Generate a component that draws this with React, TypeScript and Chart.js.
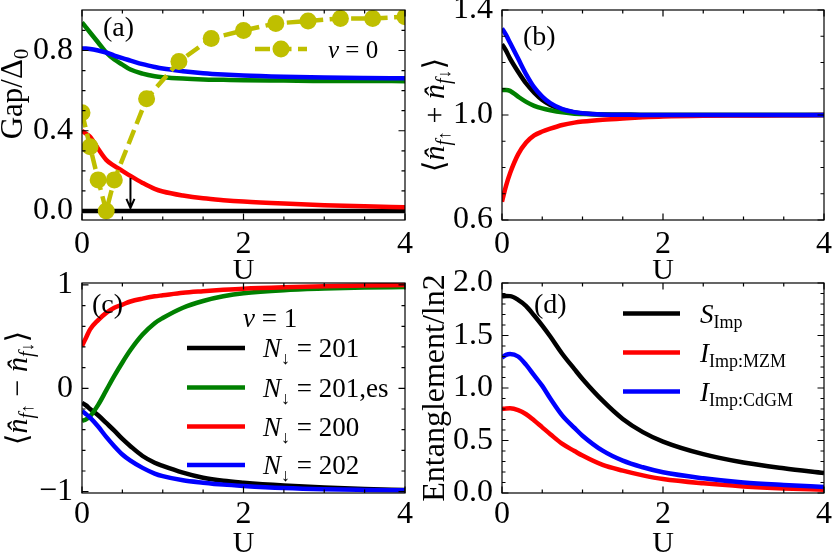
import React, { useEffect, useRef } from 'react';
import { Chart, registerables } from 'chart.js';
Chart.register(...registerables);

const FONT = '"Liberation Serif", "DejaVu Serif", serif';
const W = 832;
const H = 552;

// shared U grid for the smooth curves
const U_GRID = [0, 0.05, 0.1, 0.2, 0.3, 0.4, 0.5, 0.6, 0.75, 0.9, 1.0, 1.25, 1.5, 1.75, 2, 2.5, 3, 3.5, 4];
const X_TICKS = [0, 2, 4];
const X_MINOR = [0.5, 1, 1.5, 2.5, 3, 3.5];

// (a) gap
const A_BLACK_U = [0, 4];
const A_BLACK = [0, 0];
const A_RED = [0.40, 0.385, 0.37, 0.31, 0.255, 0.225, 0.20, 0.175, 0.14, 0.11, 0.097, 0.077, 0.063, 0.054, 0.047, 0.037, 0.029, 0.023, 0.018];
const A_GREEN = [0.94, 0.915, 0.89, 0.84, 0.79, 0.755, 0.73, 0.705, 0.685, 0.672, 0.667, 0.66, 0.656, 0.654, 0.652, 0.65, 0.648, 0.648, 0.647];
const A_BLUE = [0.81, 0.81, 0.808, 0.80, 0.79, 0.775, 0.762, 0.75, 0.732, 0.718, 0.71, 0.697, 0.687, 0.68, 0.675, 0.669, 0.665, 0.663, 0.662];
const A_NU0_U = [0, 0.1, 0.2, 0.3, 0.4, 0.8, 1.2, 1.6, 2.0, 2.4, 2.8, 3.2, 3.6, 4.0];
const A_NU0 = [0.49, 0.32, 0.155, 0.0, 0.155, 0.56, 0.745, 0.86, 0.90, 0.935, 0.947, 0.96, 0.96, 0.968];
const A_ARROW_U = 0.6;
const A_ARROW_FROM = 0.165;
const A_ARROW_TO = 0.015;
const A_Y_TICKS = [0, 0.4, 0.8];
const A_Y_MINOR = [0.1, 0.2, 0.3, 0.5, 0.6, 0.7, 0.9];

// (b) occupation sum
const B_BLACK = [1.27, 1.245, 1.215, 1.165, 1.12, 1.085, 1.057, 1.038, 1.02, 1.01, 1.006, 1.002, 1.001, 1.0, 1.0, 1.0, 1.0, 1.0, 1.0];
const B_GREEN = [1.095, 1.095, 1.092, 1.07, 1.05, 1.035, 1.025, 1.018, 1.01, 1.005, 1.004, 1.002, 1.001, 1.0, 1.0, 1.0, 1.0, 1.0, 1.0];
const B_RED = [0.67, 0.73, 0.778, 0.85, 0.895, 0.922, 0.937, 0.948, 0.962, 0.971, 0.975, 0.982, 0.987, 0.991, 0.994, 0.997, 0.998, 0.999, 1.0];
const B_BLUE = [1.33, 1.305, 1.275, 1.215, 1.155, 1.105, 1.07, 1.045, 1.022, 1.011, 1.007, 1.002, 1.001, 1.0, 1.0, 1.0, 1.0, 1.0, 1.0];
const B_Y_TICKS = [0.6, 1.0, 1.4];
const B_Y_MINOR = [0.7, 0.8, 0.9, 1.1, 1.2, 1.3];

// (c) magnetisation
const C_BLACK = [-0.14, -0.165, -0.2, -0.26, -0.335, -0.41, -0.49, -0.56, -0.655, -0.72, -0.75, -0.815, -0.865, -0.895, -0.913, -0.94, -0.96, -0.974, -0.984];
const C_GREEN = [-0.316, -0.3, -0.27, -0.16, -0.02, 0.12, 0.25, 0.37, 0.52, 0.63, 0.68, 0.78, 0.845, 0.89, 0.92, 0.95, 0.965, 0.975, 0.98];
const C_RED = [0.41, 0.49, 0.57, 0.66, 0.73, 0.78, 0.81, 0.84, 0.868, 0.89, 0.90, 0.925, 0.94, 0.953, 0.964, 0.978, 0.988, 0.995, 1.0];
const C_BLUE = [-0.22, -0.25, -0.284, -0.37, -0.47, -0.56, -0.64, -0.70, -0.77, -0.825, -0.85, -0.89, -0.913, -0.932, -0.945, -0.965, -0.977, -0.983, -0.987];
const C_Y_TICKS = [-1, 0, 1];
const C_Y_MINOR = [-0.8, -0.6, -0.4, -0.2, 0.2, 0.4, 0.6, 0.8];
const C_LEGEND = ['201', '201,es', '200', '202'];

// (d) entanglement
const D_BLACK = [1.873, 1.876, 1.875, 1.84, 1.78, 1.69, 1.594, 1.49, 1.324, 1.18, 1.086, 0.879, 0.705, 0.58, 0.49, 0.37, 0.29, 0.235, 0.19];
const D_RED = [0.80, 0.805, 0.806, 0.79, 0.75, 0.69, 0.625, 0.56, 0.467, 0.40, 0.356, 0.267, 0.213, 0.168, 0.133, 0.092, 0.063, 0.044, 0.032];
const D_BLUE = [1.29, 1.315, 1.324, 1.30, 1.22, 1.12, 1.02, 0.90, 0.737, 0.62, 0.546, 0.403, 0.308, 0.245, 0.197, 0.14, 0.10, 0.076, 0.057];
const D_Y_TICKS = [0, 0.5, 1.0, 1.5, 2.0];
const D_Y_MINOR = [0.1, 0.2, 0.3, 0.4, 0.6, 0.7, 0.8, 0.9, 1.1, 1.2, 1.3, 1.4, 1.6, 1.7, 1.8, 1.9];

const BLACK = '#000000';
const GREEN = '#008000';
const RED = '#ff0000';
const BLUE = '#0000ff';
const OLIVE = '#bfbf00';
const LW = 4.5;

type Seg = { t: string; s: number; dy?: number; it?: boolean };
const segFont = (g: Seg) => `${g.it ? 'italic ' : ''}${g.s}px ${FONT}`;
function richWidth(ctx: CanvasRenderingContext2D, segs: Seg[]) {
  let w = 0;
  for (const g of segs) {
    ctx.font = segFont(g);
    w += ctx.measureText(g.t).width;
  }
  return w;
}
function drawRich(ctx: CanvasRenderingContext2D, segs: Seg[], x: number, y: number, align: 'left' | 'center' = 'left', rot = 0) {
  ctx.save();
  ctx.translate(x, y);
  ctx.rotate(rot);
  ctx.fillStyle = '#000';
  ctx.textBaseline = 'alphabetic';
  ctx.textAlign = 'left';
  let cx = align === 'center' ? -richWidth(ctx, segs) / 2 : 0;
  for (const g of segs) {
    ctx.font = segFont(g);
    ctx.fillText(g.t, cx, g.dy || 0);
    cx += ctx.measureText(g.t).width;
  }
  ctx.restore();
}

const pts = (xs: number[], ys: number[]) => ys.map((y, i) => ({ x: xs[i], y }));
const curve = (data: number[], color: string, order: number) => ({
  data: pts(U_GRID, data),
  borderColor: color,
  backgroundColor: color,
  borderWidth: LW,
  pointRadius: 0,
  cubicInterpolationMode: 'monotone',
  clip: 0,
  order,
});

interface Panel {
  area: { l: number; r: number; t: number; b: number };
  yMin: number;
  yMax: number;
  yTicks: number[];
  yMinor: number[];
  yFmt: (v: number) => string;
  xPad: number;
  datasets: any[];
  decorate: (ctx: CanvasRenderingContext2D, chart: any) => void;
}

const fmt1 = (v: number) => v.toFixed(1);
const fmtInt = (v: number) => (v < 0 ? '\u2212' + Math.abs(v) : String(v));

function makeConfig(p: Panel): any {
  const XH = 45;
  const frame = {
    id: 'frameTicks',
    afterDraw(chart: any) {
      const { ctx, chartArea: ca } = chart;
      const xs = chart.scales.x;
      const ys = chart.scales.y;
      ctx.save();
      ctx.strokeStyle = '#000';
      ctx.lineWidth = 1.2;
      ctx.strokeRect(ca.left, ca.top, ca.right - ca.left, ca.bottom - ca.top);
      ctx.beginPath();
      const xt = (vals: number[], len: number) => {
        for (const v of vals) {
          const px = xs.getPixelForValue(v);
          ctx.moveTo(px, ca.bottom);
          ctx.lineTo(px, ca.bottom - len);
          ctx.moveTo(px, ca.top);
          ctx.lineTo(px, ca.top + len);
        }
      };
      const yt = (vals: number[], len: number) => {
        for (const v of vals) {
          const py = ys.getPixelForValue(v);
          ctx.moveTo(ca.left, py);
          ctx.lineTo(ca.left + len, py);
          ctx.moveTo(ca.right, py);
          ctx.lineTo(ca.right - len, py);
        }
      };
      xt(X_TICKS, 6.5);
      xt(X_MINOR, 3.5);
      yt(p.yTicks, 6.5);
      yt(p.yMinor, 3.5);
      ctx.stroke();
      ctx.restore();
      p.decorate(ctx, chart);
      // x title
      drawRich(ctx, [{ t: 'U', s: 30 }], (ca.left + ca.right) / 2, ca.bottom + 59, 'center');
    },
  };
  return {
    type: 'line',
    data: { datasets: p.datasets },
    plugins: [frame],
    options: {
      animation: false,
      responsive: false,
      devicePixelRatio: 1,
      events: [],
      layout: { padding: { left: 0, top: p.area.t, right: W - p.area.r, bottom: H - p.area.b - XH } },
      plugins: { legend: { display: false }, tooltip: { enabled: false }, title: { display: false } },
      scales: {
        x: {
          type: 'linear',
          min: 0,
          max: 4,
          grid: { display: false, drawTicks: false },
          border: { display: false },
          afterBuildTicks: (s: any) => {
            s.ticks = X_TICKS.map((v) => ({ value: v }));
          },
          afterFit: (s: any) => {
            s.height = XH;
            s.paddingLeft = 0;
            s.paddingRight = 0;
          },
          ticks: {
            autoSkip: false,
            maxRotation: 0,
            padding: p.xPad,
            color: '#000',
            font: { family: FONT, size: 32 },
            callback: (v: number) => String(v),
          },
        },
        y: {
          type: 'linear',
          min: p.yMin,
          max: p.yMax,
          grid: { display: false, drawTicks: false },
          border: { display: false },
          afterBuildTicks: (s: any) => {
            s.ticks = p.yTicks.map((v) => ({ value: v }));
          },
          afterFit: (s: any) => {
            s.width = p.area.l;
            s.paddingTop = 0;
            s.paddingBottom = 0;
          },
          ticks: {
            autoSkip: false,
            padding: 9,
            color: '#000',
            font: { family: FONT, size: 32 },
            callback: (v: number) => p.yFmt(v),
          },
        },
      },
    },
  };
}

const legendLine = (ctx: CanvasRenderingContext2D, x1: number, x2: number, y: number, color: string) => {
  ctx.save();
  ctx.strokeStyle = color;
  ctx.lineWidth = LW;
  ctx.beginPath();
  ctx.moveTo(x1, y);
  ctx.lineTo(x2, y);
  ctx.stroke();
  ctx.restore();
};

const panels: Panel[] = [
  {
    area: { l: 82, r: 405, t: 10, b: 220 },
    yMin: -0.045,
    yMax: 1.002,
    yTicks: A_Y_TICKS,
    yMinor: A_Y_MINOR,
    yFmt: fmt1,
    xPad: 5,
    datasets: [
      { ...curve(A_BLACK, BLACK, 5), data: pts(A_BLACK_U, A_BLACK) },
      curve(A_RED, RED, 4),
      curve(A_GREEN, GREEN, 3),
      curve(A_BLUE, BLUE, 2),
      {
        data: pts(A_NU0_U, A_NU0),
        borderColor: OLIVE,
        backgroundColor: OLIVE,
        borderWidth: LW,
        borderDash: [15, 6.5],
        pointRadius: 8.5,
        pointBorderWidth: 0,
        pointBackgroundColor: OLIVE,
        tension: 0,
        clip: 0,
        order: 1,
      },
    ],
    decorate: (ctx, chart) => {
      const xs = chart.scales.x;
      const ys = chart.scales.y;
      // arrow
      const ax = xs.getPixelForValue(A_ARROW_U);
      const y1 = ys.getPixelForValue(A_ARROW_FROM);
      const y2 = ys.getPixelForValue(A_ARROW_TO);
      ctx.save();
      ctx.strokeStyle = '#000';
      ctx.lineWidth = 2;
      ctx.beginPath();
      ctx.moveTo(ax, y1);
      ctx.lineTo(ax, y2);
      ctx.moveTo(ax - 4, y2 - 9);
      ctx.lineTo(ax, y2);
      ctx.lineTo(ax + 4, y2 - 9);
      ctx.stroke();
      // legend nu = 0
      ctx.strokeStyle = OLIVE;
      ctx.lineWidth = LW;
      ctx.setLineDash([15, 6.5]);
      ctx.beginPath();
      ctx.moveTo(255, 49);
      ctx.lineTo(307, 49);
      ctx.stroke();
      ctx.setLineDash([]);
      ctx.fillStyle = OLIVE;
      ctx.beginPath();
      ctx.arc(281, 49, 8.5, 0, Math.PI * 2);
      ctx.fill();
      ctx.restore();
      drawRich(ctx, [{ t: '\u03bd', s: 25, it: true }, { t: ' = 0', s: 25 }], 328, 58);
      drawRich(ctx, [{ t: '(a)', s: 28 }], 103, 36);
      drawRich(ctx, [{ t: 'Gap/\u0394', s: 31 }, { t: '0', s: 21, dy: 6 }], 22, 94, 'center', -Math.PI / 2);
    },
  },
  {
    area: { l: 502, r: 824, t: 10, b: 220 },
    yMin: 0.6,
    yMax: 1.4,
    yTicks: B_Y_TICKS,
    yMinor: B_Y_MINOR,
    yFmt: fmt1,
    xPad: 5,
    datasets: [curve(B_BLACK, BLACK, 4), curve(B_GREEN, GREEN, 3), curve(B_RED, RED, 2), curve(B_BLUE, BLUE, 1)],
    decorate: (ctx) => {
      drawRich(ctx, [{ t: '(b)', s: 28 }], 523, 45);
      drawRich(
        ctx,
        [
          { t: '\u27e8', s: 30 },
          { t: 'n\u0302', s: 30, it: true },
          { t: 'f', s: 20, dy: 6, it: true },
          { t: '\u2191', s: 18, dy: 6 },
          { t: ' + ', s: 30 },
          { t: 'n\u0302', s: 30, it: true },
          { t: 'f', s: 20, dy: 6, it: true },
          { t: '\u2193', s: 18, dy: 6 },
          { t: '\u27e9', s: 30 },
        ],
        444,
        115,
        'center',
        -Math.PI / 2
      );
    },
  },
  {
    area: { l: 82, r: 405, t: 283, b: 493 },
    yMin: -1.013,
    yMax: 1.019,
    yTicks: C_Y_TICKS,
    yMinor: C_Y_MINOR,
    yFmt: fmtInt,
    xPad: 2,
    datasets: [curve(C_BLACK, BLACK, 4), curve(C_GREEN, GREEN, 3), curve(C_RED, RED, 2), curve(C_BLUE, BLUE, 1)],
    decorate: (ctx) => {
      drawRich(ctx, [{ t: '(c)', s: 28 }], 92, 313);
      drawRich(ctx, [{ t: '\u03bd', s: 27, it: true }, { t: ' = 1', s: 27 }], 243, 327);
      const ys = [348, 387.5, 426.5, 465];
      const cols = [BLACK, GREEN, RED, BLUE];
      C_LEGEND.forEach((lab, i) => {
        legendLine(ctx, 187, 245, ys[i], cols[i]);
        drawRich(
          ctx,
          [
            { t: 'N', s: 27, it: true },
            { t: '\u2193', s: 18, dy: 7 },
            { t: ' = ' + lab, s: 27 },
          ],
          263,
          ys[i] + 9
        );
      });
      drawRich(
        ctx,
        [
          { t: '\u27e8', s: 30 },
          { t: 'n\u0302', s: 30, it: true },
          { t: 'f', s: 20, dy: 6, it: true },
          { t: '\u2191', s: 18, dy: 6 },
          { t: ' \u2212 ', s: 30 },
          { t: 'n\u0302', s: 30, it: true },
          { t: 'f', s: 20, dy: 6, it: true },
          { t: '\u2193', s: 18, dy: 6 },
          { t: '\u27e9', s: 30 },
        ],
        27,
        388,
        'center',
        -Math.PI / 2
      );
    },
  },
  {
    area: { l: 502, r: 824, t: 283, b: 493 },
    yMin: 0,
    yMax: 2,
    yTicks: D_Y_TICKS,
    yMinor: D_Y_MINOR,
    yFmt: fmt1,
    xPad: 2,
    datasets: [curve(D_BLACK, BLACK, 3), curve(D_RED, RED, 2), curve(D_BLUE, BLUE, 1)],
    decorate: (ctx) => {
      drawRich(ctx, [{ t: '(d)', s: 28 }], 534, 313);
      const ys = [313.5, 352.5, 391.5];
      const cols = [BLACK, RED, BLUE];
      const labs: Seg[][] = [
        [{ t: 'S', s: 27, it: true }, { t: 'Imp', s: 18, dy: 5 }],
        [{ t: 'I', s: 27, it: true }, { t: 'Imp:MZM', s: 18, dy: 5 }],
        [{ t: 'I', s: 27, it: true }, { t: 'Imp:CdGM', s: 18, dy: 5 }],
      ];
      ys.forEach((y, i) => {
        legendLine(ctx, 623, 680, y, cols[i]);
        drawRich(ctx, labs[i], 700, y + 9);
      });
      drawRich(ctx, [{ t: 'Entanglement/ln2', s: 32 }], 444, 388, 'center', -Math.PI / 2);
    },
  },
];

function PanelCanvas({ panel }: { panel: Panel }) {
  const ref = useRef<HTMLCanvasElement>(null);
  useEffect(() => {
    if (!ref.current) return;
    const chart = new Chart(ref.current, makeConfig(panel));
    return () => chart.destroy();
  }, [panel]);
  return <canvas ref={ref} width={W} height={H} style={{ position: 'absolute', left: 0, top: 0, width: W, height: H }} />;
}

export default function App() {
  return (
    <div style={{ position: 'fixed', left: 0, top: 0, width: W, height: H, background: '#fff' }}>
      {panels.map((p, i) => (
        <PanelCanvas key={i} panel={p} />
      ))}
    </div>
  );
}
